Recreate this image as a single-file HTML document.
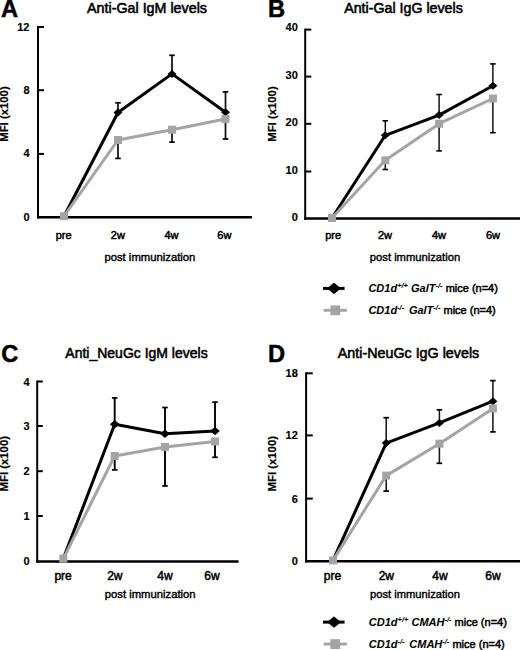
<!DOCTYPE html>
<html><head><meta charset="utf-8"><title>Anti-Gal and Anti-NeuGc antibody levels</title>
<style>
html,body{margin:0;padding:0;background:#fff;}
body{width:520px;height:650px;overflow:hidden;}
svg{display:block;font-family:"Liberation Sans", sans-serif;}
</style></head><body>
<svg width="520" height="650" viewBox="0 0 520 650">
<rect width="520" height="650" fill="#fff"/>
<line x1="38" y1="26.0" x2="38" y2="218.55" stroke="#000" stroke-width="2"/>
<line x1="37.0" y1="217.3" x2="252" y2="217.3" stroke="#000" stroke-width="2.5"/>
<line x1="38" y1="27" x2="44" y2="27" stroke="#000" stroke-width="2"/>
<line x1="38" y1="90.2" x2="44" y2="90.2" stroke="#000" stroke-width="2"/>
<line x1="38" y1="153.9" x2="44" y2="153.9" stroke="#000" stroke-width="2"/>
<text x="29.5" y="30.6" font-size="11" font-weight="bold" font-style="normal" text-anchor="end" stroke="#000" stroke-width="0.15">12</text>
<text x="29.5" y="94.25" font-size="11" font-weight="bold" font-style="normal" text-anchor="end" stroke="#000" stroke-width="0.15">8</text>
<text x="29.5" y="157.4" font-size="11" font-weight="bold" font-style="normal" text-anchor="end" stroke="#000" stroke-width="0.15">4</text>
<text x="29.5" y="220.6" font-size="11" font-weight="bold" font-style="normal" text-anchor="end" stroke="#000" stroke-width="0.15">0</text>
<text x="63.6" y="238.6" font-size="11" font-weight="normal" font-style="normal" text-anchor="middle" stroke="#000" stroke-width="0.5">pre</text>
<text x="117.9" y="238.6" font-size="11" font-weight="normal" font-style="normal" text-anchor="middle" stroke="#000" stroke-width="0.5">2w</text>
<text x="171.5" y="238.6" font-size="11" font-weight="normal" font-style="normal" text-anchor="middle" stroke="#000" stroke-width="0.5">4w</text>
<text x="224.4" y="238.6" font-size="11" font-weight="normal" font-style="normal" text-anchor="middle" stroke="#000" stroke-width="0.5">6w</text>
<text x="149.9" y="261.2" font-size="11" font-weight="normal" font-style="normal" text-anchor="middle" textLength="91" lengthAdjust="spacingAndGlyphs" stroke="#000" stroke-width="0.4">post immunization</text>
<text x="0" y="0" font-size="11" font-weight="bold" stroke="#000" stroke-width="0.2" text-anchor="start" transform="translate(7.8 141.8) rotate(-90)" textLength="55.5" lengthAdjust="spacingAndGlyphs">MFI (x100)</text>
<text x="147" y="13.1" font-size="14" font-weight="normal" font-style="normal" text-anchor="middle" textLength="120" lengthAdjust="spacingAndGlyphs" stroke="#000" stroke-width="0.55">Anti-Gal IgM levels</text>
<text x="0.9" y="16.6" font-size="23.7" font-weight="bold" font-style="normal" text-anchor="start" stroke="#000" stroke-width="0.5">A</text>
<line x1="118" y1="112.5" x2="118" y2="102.8" stroke="#0a0a0a" stroke-width="1.7"/>
<line x1="115.2" y1="102.8" x2="120.8" y2="102.8" stroke="#000" stroke-width="1.7"/>
<line x1="172" y1="73.9" x2="172" y2="55.3" stroke="#0a0a0a" stroke-width="1.7"/>
<line x1="169.2" y1="55.3" x2="174.8" y2="55.3" stroke="#000" stroke-width="1.7"/>
<line x1="225.5" y1="112.2" x2="225.5" y2="91.9" stroke="#0a0a0a" stroke-width="1.7"/>
<line x1="222.7" y1="91.9" x2="228.3" y2="91.9" stroke="#000" stroke-width="1.7"/>
<line x1="118" y1="140" x2="118" y2="158.4" stroke="#0a0a0a" stroke-width="1.7"/>
<line x1="115.2" y1="158.4" x2="120.8" y2="158.4" stroke="#000" stroke-width="1.7"/>
<line x1="172" y1="129.7" x2="172" y2="142.1" stroke="#0a0a0a" stroke-width="1.7"/>
<line x1="169.2" y1="142.1" x2="174.8" y2="142.1" stroke="#000" stroke-width="1.7"/>
<line x1="225.5" y1="119" x2="225.5" y2="139" stroke="#0a0a0a" stroke-width="1.7"/>
<line x1="222.7" y1="139" x2="228.3" y2="139" stroke="#000" stroke-width="1.7"/>
<polyline points="64,216.2 118,112.5 172,73.9 225.5,112.2" fill="none" stroke="#000" stroke-width="3" stroke-linejoin="round"/>
<path d="M113.50 112.50 L118.00 108.50 L122.50 112.50 L118.00 116.50Z" fill="#000"/>
<path d="M167.50 73.90 L172.00 69.90 L176.50 73.90 L172.00 77.90Z" fill="#000"/>
<path d="M221.00 112.20 L225.50 108.20 L230.00 112.20 L225.50 116.20Z" fill="#000"/>
<polyline points="64,216.2 118,140 172,129.7 225.5,119" fill="none" stroke="#a4a4a4" stroke-width="3" stroke-linejoin="round"/>
<rect x="60.00" y="212.20" width="8" height="8" fill="#a4a4a4"/>
<rect x="114.00" y="136.00" width="8" height="8" fill="#a4a4a4"/>
<rect x="168.00" y="125.70" width="8" height="8" fill="#a4a4a4"/>
<rect x="221.50" y="115.00" width="8" height="8" fill="#a4a4a4"/>
<line x1="305.2" y1="28.6" x2="305.2" y2="219.85" stroke="#000" stroke-width="2"/>
<line x1="304.2" y1="218.6" x2="520" y2="218.6" stroke="#000" stroke-width="2.5"/>
<line x1="305.2" y1="29.6" x2="311.3" y2="29.6" stroke="#000" stroke-width="2"/>
<line x1="305.2" y1="76.6" x2="311.3" y2="76.6" stroke="#000" stroke-width="2"/>
<line x1="305.2" y1="123.8" x2="311.3" y2="123.8" stroke="#000" stroke-width="2"/>
<line x1="305.2" y1="171.5" x2="311.3" y2="171.5" stroke="#000" stroke-width="2"/>
<text x="297.8" y="30.55" font-size="11" font-weight="bold" font-style="normal" text-anchor="end" stroke="#000" stroke-width="0.15">40</text>
<text x="297.8" y="78.55" font-size="11" font-weight="bold" font-style="normal" text-anchor="end" stroke="#000" stroke-width="0.15">30</text>
<text x="297.8" y="126.45" font-size="11" font-weight="bold" font-style="normal" text-anchor="end" stroke="#000" stroke-width="0.15">20</text>
<text x="297.8" y="173.95" font-size="11" font-weight="bold" font-style="normal" text-anchor="end" stroke="#000" stroke-width="0.15">10</text>
<text x="297.8" y="221.25" font-size="11" font-weight="bold" font-style="normal" text-anchor="end" stroke="#000" stroke-width="0.15">0</text>
<text x="333.2" y="238.5" font-size="11" font-weight="normal" font-style="normal" text-anchor="middle" stroke="#000" stroke-width="0.5">pre</text>
<text x="385" y="238.5" font-size="11" font-weight="normal" font-style="normal" text-anchor="middle" stroke="#000" stroke-width="0.5">2w</text>
<text x="439" y="238.5" font-size="11" font-weight="normal" font-style="normal" text-anchor="middle" stroke="#000" stroke-width="0.5">4w</text>
<text x="493" y="238.5" font-size="11" font-weight="normal" font-style="normal" text-anchor="middle" stroke="#000" stroke-width="0.5">6w</text>
<text x="415" y="261.3" font-size="11" font-weight="normal" font-style="normal" text-anchor="middle" textLength="90.3" lengthAdjust="spacingAndGlyphs" stroke="#000" stroke-width="0.4">post immunization</text>
<text x="0" y="0" font-size="11" font-weight="bold" stroke="#000" stroke-width="0.2" text-anchor="start" transform="translate(275.9 141.8) rotate(-90)" textLength="55.5" lengthAdjust="spacingAndGlyphs">MFI (x100)</text>
<text x="403.5" y="13.1" font-size="14" font-weight="normal" font-style="normal" text-anchor="middle" textLength="118.6" lengthAdjust="spacingAndGlyphs" stroke="#000" stroke-width="0.55">Anti-Gal IgG levels</text>
<text x="267.9" y="16.7" font-size="23.7" font-weight="bold" font-style="normal" text-anchor="start" stroke="#000" stroke-width="0.5">B</text>
<line x1="385.3" y1="135.3" x2="385.3" y2="120.8" stroke="#000" stroke-width="1.4"/>
<line x1="382.5" y1="120.8" x2="388.1" y2="120.8" stroke="#000" stroke-width="1.6"/>
<line x1="439.1" y1="115.1" x2="439.1" y2="94.5" stroke="#000" stroke-width="1.4"/>
<line x1="436.3" y1="94.5" x2="441.90000000000003" y2="94.5" stroke="#000" stroke-width="1.6"/>
<line x1="492.9" y1="85.7" x2="492.9" y2="63.9" stroke="#000" stroke-width="1.4"/>
<line x1="490.09999999999997" y1="63.9" x2="495.7" y2="63.9" stroke="#000" stroke-width="1.6"/>
<line x1="385.3" y1="160.3" x2="385.3" y2="169.5" stroke="#000" stroke-width="1.4"/>
<line x1="382.5" y1="169.5" x2="388.1" y2="169.5" stroke="#000" stroke-width="1.6"/>
<line x1="439.1" y1="123.7" x2="439.1" y2="150.9" stroke="#000" stroke-width="1.4"/>
<line x1="436.3" y1="150.9" x2="441.90000000000003" y2="150.9" stroke="#000" stroke-width="1.6"/>
<line x1="492.9" y1="98.5" x2="492.9" y2="132.7" stroke="#000" stroke-width="1.4"/>
<line x1="490.09999999999997" y1="132.7" x2="495.7" y2="132.7" stroke="#000" stroke-width="1.6"/>
<polyline points="332,218 385.3,135.3 439.1,115.1 492.9,85.7" fill="none" stroke="#000" stroke-width="3" stroke-linejoin="round"/>
<path d="M380.80 135.30 L385.30 131.30 L389.80 135.30 L385.30 139.30Z" fill="#000"/>
<path d="M434.60 115.10 L439.10 111.10 L443.60 115.10 L439.10 119.10Z" fill="#000"/>
<path d="M488.40 85.70 L492.90 81.70 L497.40 85.70 L492.90 89.70Z" fill="#000"/>
<polyline points="332,218 385.3,160.3 439.1,123.7 492.9,98.5" fill="none" stroke="#a4a4a4" stroke-width="3" stroke-linejoin="round"/>
<rect x="328.00" y="214.00" width="8" height="8" fill="#a4a4a4"/>
<rect x="381.30" y="156.30" width="8" height="8" fill="#a4a4a4"/>
<rect x="435.10" y="119.70" width="8" height="8" fill="#a4a4a4"/>
<rect x="488.90" y="94.50" width="8" height="8" fill="#a4a4a4"/>
<line x1="37.2" y1="380.5" x2="37.2" y2="562.65" stroke="#000" stroke-width="2"/>
<line x1="36.2" y1="561.4" x2="238.6" y2="561.4" stroke="#000" stroke-width="2.5"/>
<line x1="37.2" y1="381.5" x2="42.8" y2="381.5" stroke="#000" stroke-width="2"/>
<line x1="37.2" y1="426" x2="42.8" y2="426" stroke="#000" stroke-width="2"/>
<line x1="37.2" y1="471.2" x2="42.8" y2="471.2" stroke="#000" stroke-width="2"/>
<line x1="37.2" y1="516" x2="42.8" y2="516" stroke="#000" stroke-width="2"/>
<text x="29.5" y="385.5" font-size="11" font-weight="bold" font-style="normal" text-anchor="end" stroke="#000" stroke-width="0.15">4</text>
<text x="29.5" y="430.15" font-size="11" font-weight="bold" font-style="normal" text-anchor="end" stroke="#000" stroke-width="0.15">3</text>
<text x="29.5" y="475.15" font-size="11" font-weight="bold" font-style="normal" text-anchor="end" stroke="#000" stroke-width="0.15">2</text>
<text x="29.5" y="519.95" font-size="11" font-weight="bold" font-style="normal" text-anchor="end" stroke="#000" stroke-width="0.15">1</text>
<text x="29.5" y="564.95" font-size="11" font-weight="bold" font-style="normal" text-anchor="end" stroke="#000" stroke-width="0.15">0</text>
<text x="63.1" y="580.4" font-size="12" font-weight="normal" font-style="normal" text-anchor="middle" stroke="#000" stroke-width="0.5">pre</text>
<text x="114.8" y="580.4" font-size="12" font-weight="normal" font-style="normal" text-anchor="middle" stroke="#000" stroke-width="0.5">2w</text>
<text x="164.9" y="580.4" font-size="12" font-weight="normal" font-style="normal" text-anchor="middle" stroke="#000" stroke-width="0.5">4w</text>
<text x="212" y="580.4" font-size="12" font-weight="normal" font-style="normal" text-anchor="middle" stroke="#000" stroke-width="0.5">6w</text>
<text x="150.2" y="598" font-size="11" font-weight="normal" font-style="normal" text-anchor="middle" textLength="90.8" lengthAdjust="spacingAndGlyphs" stroke="#000" stroke-width="0.4">post immunization</text>
<text x="0" y="0" font-size="11" font-weight="bold" stroke="#000" stroke-width="0.2" text-anchor="start" transform="translate(7.8 491.5) rotate(-90)" textLength="55.5" lengthAdjust="spacingAndGlyphs">MFI (x100)</text>
<text x="136.5" y="358.0" font-size="14" font-weight="normal" font-style="normal" text-anchor="middle" textLength="142.3" lengthAdjust="spacingAndGlyphs" stroke="#000" stroke-width="0.55">Anti_NeuGc IgM levels</text>
<text x="1.3" y="362.2" font-size="23.7" font-weight="bold" font-style="normal" text-anchor="start" stroke="#000" stroke-width="0.5">C</text>
<line x1="114.7" y1="424.3" x2="114.7" y2="397.9" stroke="#000" stroke-width="1.9"/>
<line x1="111.9" y1="397.9" x2="117.5" y2="397.9" stroke="#000" stroke-width="1.7"/>
<line x1="165" y1="433.8" x2="165" y2="407.5" stroke="#000" stroke-width="1.9"/>
<line x1="162.2" y1="407.5" x2="167.8" y2="407.5" stroke="#000" stroke-width="1.7"/>
<line x1="215" y1="431" x2="215" y2="402.1" stroke="#000" stroke-width="1.9"/>
<line x1="212.2" y1="402.1" x2="217.8" y2="402.1" stroke="#000" stroke-width="1.7"/>
<line x1="114.7" y1="456" x2="114.7" y2="469.9" stroke="#000" stroke-width="1.9"/>
<line x1="111.9" y1="469.9" x2="117.5" y2="469.9" stroke="#000" stroke-width="1.7"/>
<line x1="165" y1="446.9" x2="165" y2="486" stroke="#000" stroke-width="1.9"/>
<line x1="162.2" y1="486" x2="167.8" y2="486" stroke="#000" stroke-width="1.7"/>
<line x1="215" y1="441.5" x2="215" y2="457.3" stroke="#000" stroke-width="1.9"/>
<line x1="212.2" y1="457.3" x2="217.8" y2="457.3" stroke="#000" stroke-width="1.7"/>
<polyline points="63.3,558.6 114.7,424.3 165,433.8 215,431" fill="none" stroke="#000" stroke-width="3" stroke-linejoin="round"/>
<path d="M109.95 424.30 L114.70 420.05 L119.45 424.30 L114.70 428.55Z" fill="#000"/>
<path d="M160.25 433.80 L165.00 429.55 L169.75 433.80 L165.00 438.05Z" fill="#000"/>
<path d="M210.25 431.00 L215.00 426.75 L219.75 431.00 L215.00 435.25Z" fill="#000"/>
<polyline points="63.3,558.6 114.7,456 165,446.9 215,441.5" fill="none" stroke="#a4a4a4" stroke-width="3" stroke-linejoin="round"/>
<rect x="59.30" y="554.60" width="8" height="8" fill="#a4a4a4"/>
<rect x="110.70" y="452.00" width="8" height="8" fill="#a4a4a4"/>
<rect x="161.00" y="442.90" width="8" height="8" fill="#a4a4a4"/>
<rect x="211.00" y="437.50" width="8" height="8" fill="#a4a4a4"/>
<line x1="306.1" y1="372.3" x2="306.1" y2="562.45" stroke="#000" stroke-width="2"/>
<line x1="305.1" y1="561.2" x2="520" y2="561.2" stroke="#000" stroke-width="2.5"/>
<line x1="306.1" y1="373.3" x2="312.8" y2="373.3" stroke="#000" stroke-width="2"/>
<line x1="306.1" y1="435.4" x2="312.8" y2="435.4" stroke="#000" stroke-width="2"/>
<line x1="306.1" y1="498.6" x2="312.8" y2="498.6" stroke="#000" stroke-width="2"/>
<text x="297.8" y="376.95" font-size="11" font-weight="bold" font-style="normal" text-anchor="end" stroke="#000" stroke-width="0.15">18</text>
<text x="297.8" y="439.25" font-size="11" font-weight="bold" font-style="normal" text-anchor="end" stroke="#000" stroke-width="0.15">12</text>
<text x="297.8" y="502.95" font-size="11" font-weight="bold" font-style="normal" text-anchor="end" stroke="#000" stroke-width="0.15">6</text>
<text x="297.8" y="565.15" font-size="11" font-weight="bold" font-style="normal" text-anchor="end" stroke="#000" stroke-width="0.15">0</text>
<text x="332.4" y="580.4" font-size="12" font-weight="normal" font-style="normal" text-anchor="middle" stroke="#000" stroke-width="0.5">pre</text>
<text x="386.3" y="580.4" font-size="12" font-weight="normal" font-style="normal" text-anchor="middle" stroke="#000" stroke-width="0.5">2w</text>
<text x="439.9" y="580.4" font-size="12" font-weight="normal" font-style="normal" text-anchor="middle" stroke="#000" stroke-width="0.5">4w</text>
<text x="493" y="580.4" font-size="12" font-weight="normal" font-style="normal" text-anchor="middle" stroke="#000" stroke-width="0.5">6w</text>
<text x="415" y="597.8" font-size="11" font-weight="normal" font-style="normal" text-anchor="middle" textLength="90" lengthAdjust="spacingAndGlyphs" stroke="#000" stroke-width="0.4">post immunization</text>
<text x="0" y="0" font-size="11" font-weight="bold" stroke="#000" stroke-width="0.2" text-anchor="start" transform="translate(275.9 491.5) rotate(-90)" textLength="55.5" lengthAdjust="spacingAndGlyphs">MFI (x100)</text>
<text x="408.5" y="358.0" font-size="14" font-weight="normal" font-style="normal" text-anchor="middle" textLength="141.5" lengthAdjust="spacingAndGlyphs" stroke="#000" stroke-width="0.55">Anti-NeuGc IgG levels</text>
<text x="268.1" y="361.75" font-size="23.7" font-weight="bold" font-style="normal" text-anchor="start" stroke="#000" stroke-width="0.5">D</text>
<line x1="386.2" y1="443.1" x2="386.2" y2="417.7" stroke="#151515" stroke-width="1.55"/>
<line x1="383.4" y1="417.7" x2="389.0" y2="417.7" stroke="#000" stroke-width="1.7"/>
<line x1="439.4" y1="422.9" x2="439.4" y2="409.8" stroke="#151515" stroke-width="1.55"/>
<line x1="436.59999999999997" y1="409.8" x2="442.2" y2="409.8" stroke="#000" stroke-width="1.7"/>
<line x1="492.9" y1="401.2" x2="492.9" y2="380.6" stroke="#151515" stroke-width="1.55"/>
<line x1="490.09999999999997" y1="380.6" x2="495.7" y2="380.6" stroke="#000" stroke-width="1.7"/>
<line x1="386.2" y1="475.6" x2="386.2" y2="491.1" stroke="#151515" stroke-width="1.55"/>
<line x1="383.4" y1="491.1" x2="389.0" y2="491.1" stroke="#000" stroke-width="1.7"/>
<line x1="439.4" y1="443.7" x2="439.4" y2="463.3" stroke="#151515" stroke-width="1.55"/>
<line x1="436.59999999999997" y1="463.3" x2="442.2" y2="463.3" stroke="#000" stroke-width="1.7"/>
<line x1="492.9" y1="408.5" x2="492.9" y2="431.9" stroke="#151515" stroke-width="1.55"/>
<line x1="490.09999999999997" y1="431.9" x2="495.7" y2="431.9" stroke="#000" stroke-width="1.7"/>
<polyline points="333,560.4 386.2,443.1 439.4,422.9 492.9,401.2" fill="none" stroke="#000" stroke-width="3" stroke-linejoin="round"/>
<path d="M381.70 443.10 L386.20 439.10 L390.70 443.10 L386.20 447.10Z" fill="#000"/>
<path d="M434.90 422.90 L439.40 418.90 L443.90 422.90 L439.40 426.90Z" fill="#000"/>
<path d="M488.40 401.20 L492.90 397.20 L497.40 401.20 L492.90 405.20Z" fill="#000"/>
<polyline points="333,560.4 386.2,475.6 439.4,443.7 492.9,408.5" fill="none" stroke="#a4a4a4" stroke-width="3" stroke-linejoin="round"/>
<rect x="329.00" y="556.40" width="8" height="8" fill="#a4a4a4"/>
<rect x="382.20" y="471.60" width="8" height="8" fill="#a4a4a4"/>
<rect x="435.40" y="439.70" width="8" height="8" fill="#a4a4a4"/>
<rect x="488.90" y="404.50" width="8" height="8" fill="#a4a4a4"/>
<line x1="323" y1="288.4" x2="344.6" y2="288.4" stroke="#000" stroke-width="3"/>
<path d="M328.25 288.40 L334.00 283.60 L339.75 288.40 L334.00 293.20Z" fill="#000" stroke="#000" stroke-width="1.4" stroke-linejoin="round"/>
<line x1="323.6" y1="310.3" x2="346.9" y2="310.3" stroke="#a4a4a4" stroke-width="2.9"/>
<rect x="330.40" y="305.40" width="9.8" height="9.8" fill="#a4a4a4"/>
<text x="368.4" y="291.6" font-size="11"><tspan font-weight="bold" font-style="italic" stroke="#000" stroke-width="0.05">CD1d</tspan><tspan font-weight="bold" font-style="italic" stroke="#000" stroke-width="0.05" font-size="7.5" dy="-4">+/+</tspan><tspan font-weight="bold" font-style="italic" stroke="#000" stroke-width="0.05" dy="4"> GalT</tspan><tspan font-weight="bold" font-style="italic" stroke="#000" stroke-width="0.05" font-size="7.5" dy="-4">-/-</tspan><tspan dy="4" font-weight="normal" stroke="#000" stroke-width="0.5"> mice (n=4)</tspan></text>
<text x="368.4" y="313.5" font-size="11"><tspan font-weight="bold" font-style="italic" stroke="#000" stroke-width="0.05">CD1d</tspan><tspan font-weight="bold" font-style="italic" stroke="#000" stroke-width="0.05" font-size="7.5" dy="-4">-/-</tspan><tspan font-weight="bold" font-style="italic" stroke="#000" stroke-width="0.05" dy="4" dx="1.6"> GalT</tspan><tspan font-weight="bold" font-style="italic" stroke="#000" stroke-width="0.05" font-size="7.5" dy="-4">-/-</tspan><tspan dy="4" font-weight="normal" stroke="#000" stroke-width="0.5"> mice (n=4)</tspan></text>
<line x1="323" y1="622.1" x2="344.6" y2="622.1" stroke="#000" stroke-width="3"/>
<path d="M328.25 622.10 L334.00 617.30 L339.75 622.10 L334.00 626.90Z" fill="#000" stroke="#000" stroke-width="1.4" stroke-linejoin="round"/>
<line x1="323.6" y1="644.1" x2="346.9" y2="644.1" stroke="#a4a4a4" stroke-width="2.9"/>
<rect x="330.40" y="639.20" width="9.8" height="9.8" fill="#a4a4a4"/>
<text x="368.8" y="625.7" font-size="11"><tspan font-weight="bold" font-style="italic" stroke="#000" stroke-width="0.05">CD1d</tspan><tspan font-weight="bold" font-style="italic" stroke="#000" stroke-width="0.05" font-size="7.5" dy="-4">+/+</tspan><tspan font-weight="bold" font-style="italic" stroke="#000" stroke-width="0.05" dy="4"> CMAH</tspan><tspan font-weight="bold" font-style="italic" stroke="#000" stroke-width="0.05" font-size="7.5" dy="-4">-/-</tspan><tspan dy="4" font-weight="normal" stroke="#000" stroke-width="0.5"> mice (n=4)</tspan></text>
<text x="368.8" y="647.7" font-size="11"><tspan font-weight="bold" font-style="italic" stroke="#000" stroke-width="0.05">CD1d</tspan><tspan font-weight="bold" font-style="italic" stroke="#000" stroke-width="0.05" font-size="7.5" dy="-4">-/-</tspan><tspan font-weight="bold" font-style="italic" stroke="#000" stroke-width="0.05" dy="4" dx="1.6"> CMAH</tspan><tspan font-weight="bold" font-style="italic" stroke="#000" stroke-width="0.05" font-size="7.5" dy="-4">-/-</tspan><tspan dy="4" font-weight="normal" stroke="#000" stroke-width="0.5"> mice (n=4)</tspan></text>
</svg>
</body></html>
